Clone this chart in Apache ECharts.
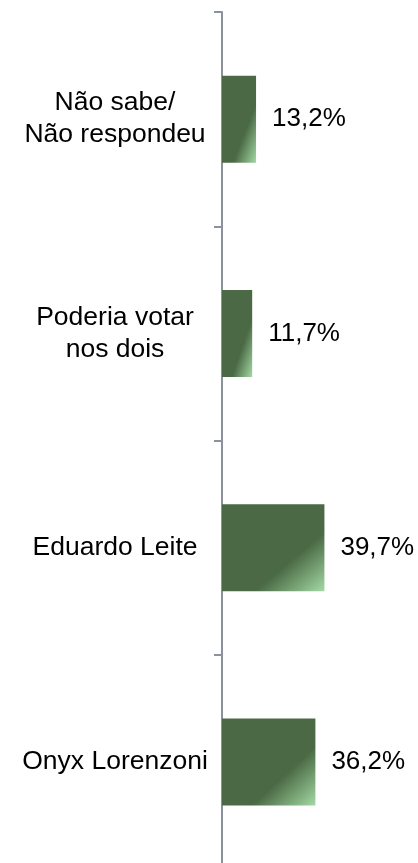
<!DOCTYPE html>
<html>
<head>
<meta charset="utf-8">
<script src="https://cdn.jsdelivr.net/npm/echarts@6/dist/echarts.min.js"></script>
<style>
  html, body { margin: 0; padding: 0; background: #fff; }
  #chart { width: 418px; height: 863px; }
</style>
</head>
<body>
<div id="chart"></div>
<script>
  // dados
  var categories = ['Não sabe/\nNão respondeu', 'Poderia votar\nnos dois', 'Eduardo Leite', 'Onyx Lorenzoni']
  var values = [13.2, 11.7, 39.7, 36.2]

  var gridLeft = 222
  var gridWidth = 129
  var xMax = 50
  var barH = 87

  // degradê diagonal (canto inferior direito claro)
  function barColor(v) {
    var w = v * gridWidth / xMax
    var h = barH
    var d = h * h + w * w
    return new echarts.graphic.LinearGradient(0, 0, 2 * h * h / d, 2 * w * w / d, [
      {offset: 0, color: '#4a6944'},
      {offset: 0.66, color: '#4a6944'},
      {offset: 1, color: '#a3d9a3'}
    ])
  }

  var chart = echarts.init(document.getElementById('chart'))
  chart.setOption({
    animation: false,
    grid: {left: gridLeft, top: 12, width: gridWidth, height: 857, outerBoundsMode: 'none'},
    xAxis: {
      type: 'value',
      min: 0,
      max: xMax,
      show: false
    },
    yAxis: {
      type: 'category',
      inverse: true,
      data: categories,
      axisLine: {show: true, lineStyle: {color: '#8b929c', width: 2}},
      axisTick: {show: true, length: 8, lineStyle: {color: '#8b929c', width: 2}},
      axisLabel: {
        align: 'center',
        margin: 107,
        color: '#000',
        fontFamily: 'Liberation Sans, Arial, sans-serif',
        fontSize: 26.5,
        lineHeight: 32
      }
    },
    series: [{
      type: 'bar',
      barWidth: barH,
      data: values.map(function (v) {
        return {value: v, itemStyle: {color: barColor(v)}}
      }),
      label: {
        show: true,
        position: 'right',
        distance: 16,
        color: '#000',
        fontFamily: 'Liberation Sans, Arial, sans-serif',
        fontSize: 26,
        formatter: function (p) {
          return p.value.toFixed(1).replace('.', ',') + '%'
        }
      }
    }]
  })
</script>
</body>
</html>
